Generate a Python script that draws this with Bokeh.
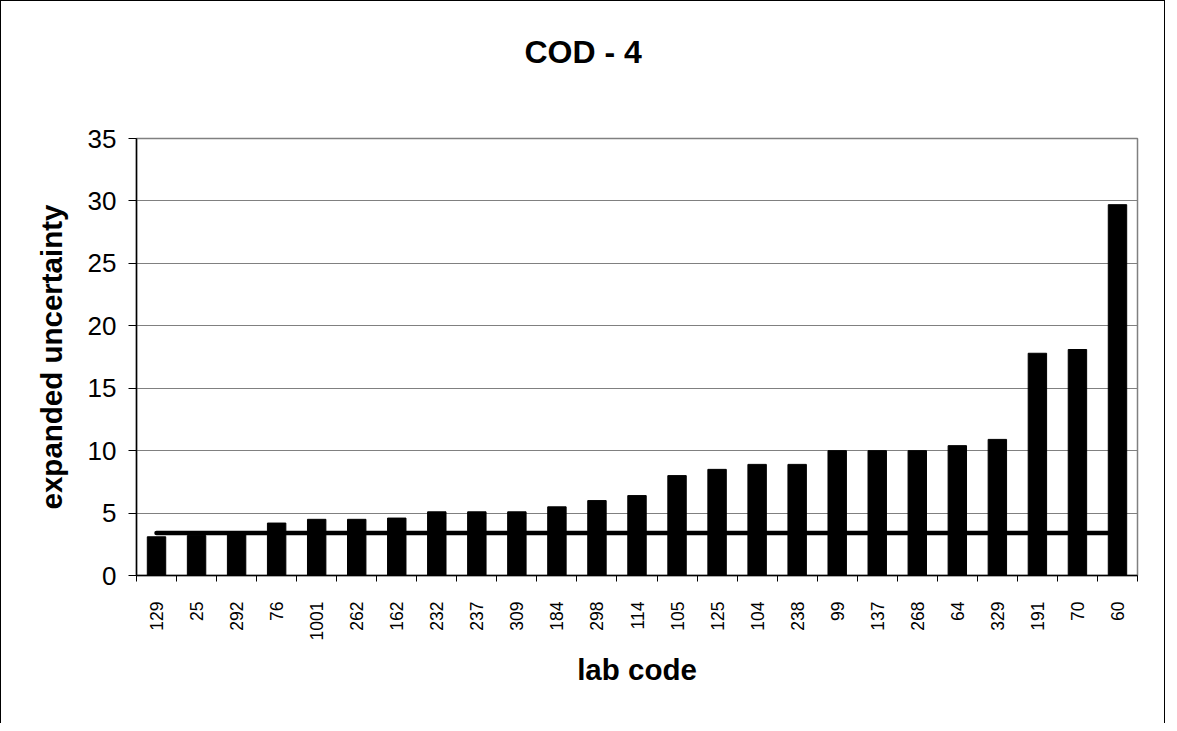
import math
from bokeh.plotting import figure
from bokeh.models import Range1d, FixedTicker, ColumnDataSource, Title
from bokeh.embed import file_html
from bokeh.resources import INLINE

# ---- data ----
labs = ["129", "25", "292", "76", "1001", "262", "162", "232", "237", "309",
        "184", "298", "114", "105", "125", "104", "238", "99", "137", "268",
        "64", "329", "191", "70", "60"]
values = [3.1, 3.2, 3.5, 4.2, 4.5, 4.5, 4.6, 5.1, 5.1, 5.1,
          5.5, 6.0, 6.4, 8.0, 8.5, 8.9, 8.9, 10.0, 10.0, 10.0,
          10.4, 10.9, 17.8, 18.1, 29.7]
target_value = 3.4
y_ticks = [0, 5, 10, 15, 20, 25, 30, 35]
title_text = "COD - 4"
x_title = "lab code"
y_title = "expanded uncertainty"

FONT = "Liberation Sans"

n = len(labs)
centers = [i + 0.5 for i in range(n)]
boundaries = list(range(n + 1))
src = ColumnDataSource(dict(x=centers, top=values, lab=labs))

p = figure(width=1165, height=723, output_backend="svg", toolbar_location=None,
           title=None,
           x_range=Range1d(0, n), y_range=Range1d(y_ticks[0], y_ticks[-1]),
           min_border_left=135, min_border_right=29,
           min_border_top=137, min_border_bottom=149)
p.styles = {"border-top": "1px solid black", "border-left": "1px solid black",
            "border-right": "1px solid black"}
p.background_fill_color = "white"
p.border_fill_color = "white"
p.outline_line_color = "#808080"
p.outline_line_width = 1.5

# bars
p.vbar(x="x", top="top", bottom=0, width=0.46, source=src,
       fill_color="black", line_color="black")

# reference line
p.line(x=[centers[0], centers[-1]], y=[target_value, target_value],
       line_width=4.5, line_color="black", line_cap="round")

# x axis
xa = p.xaxis[0]
xa.ticker = FixedTicker(ticks=centers, minor_ticks=boundaries)
xa.major_label_overrides = {c: l for c, l in zip(centers, labs)}
xa.major_tick_out = 0
xa.major_tick_in = 0
xa.minor_tick_out = 6
xa.minor_tick_in = 0
xa.minor_tick_line_color = "black"
xa.major_label_orientation = math.pi / 2
xa.major_label_standoff = 20
xa.major_label_text_font = FONT
xa.major_label_text_font_size = "17.5px"
xa.major_label_text_color = "black"
xa.axis_line_color = "black"
xa.axis_line_width = 1.5
xa.axis_label = x_title
xa.axis_label_text_font = FONT
xa.axis_label_text_font_size = "29.5px"
xa.axis_label_text_font_style = "bold"
xa.axis_label_text_color = "black"
xa.axis_label_standoff = 10

# y axis
ya = p.yaxis[0]
ya.ticker = FixedTicker(ticks=y_ticks)
ya.major_tick_out = 8
ya.major_tick_in = 0
ya.minor_tick_line_color = None
ya.major_tick_line_color = "black"
ya.major_label_standoff = 12
ya.major_label_text_font = FONT
ya.major_label_text_font_size = "26px"
ya.major_label_text_color = "black"
ya.axis_line_color = "black"
ya.axis_line_width = 1.5
ya.axis_label = y_title
ya.axis_label_text_font = FONT
ya.axis_label_text_font_size = "29.5px"
ya.axis_label_text_font_style = "bold"
ya.axis_label_text_color = "black"
ya.axis_label_standoff = 17

# grid
p.xgrid.visible = False
p.ygrid.grid_line_color = "#808080"
p.ygrid.grid_line_width = 1

# spacer between the frame and the title, then the title itself
p.add_layout(Title(text=" ", text_font_size="10px", standoff=56), "above")
p.add_layout(Title(text=title_text, align="left", offset=388, vertical_align="bottom",
                   standoff=0, text_font=FONT, text_font_size="32px",
                   text_font_style="bold", text_color="black"), "above")

open("out.html", "w").write(file_html(p, INLINE))
